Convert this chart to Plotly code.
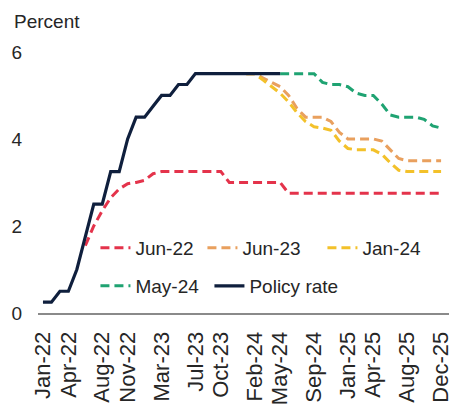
import plotly.graph_objects as go

# ---- data ----
month_names = ["Jan", "Feb", "Mar", "Apr", "May", "Jun", "Jul", "Aug", "Sep", "Oct", "Nov", "Dec"]
years = ["22", "23", "24", "25"]
months = [f"{m}-{y}" for y in years for m in month_names]  # Jan-22 .. Dec-25

tick_labels = ["Jan-22", "Apr-22", "Aug-22", "Nov-22", "Mar-23", "Jul-23", "Oct-23",
               "Feb-24", "May-24", "Sep-24", "Jan-25", "Apr-25", "Aug-25", "Dec-25"]

# Policy rate: Jan-22 .. May-24
policy_rate = [0.25, 0.25, 0.5, 0.5, 1.0, 1.75, 2.5, 2.5, 3.25, 3.25, 4.0, 4.5,
               4.5, 4.75, 5.0, 5.0, 5.25, 5.25, 5.5, 5.5, 5.5, 5.5, 5.5, 5.5,
               5.5, 5.5, 5.5, 5.5, 5.5]

# Jun-22 expectations: Jun-22 .. Dec-25
jun22 = [1.55, 2.0, 2.35, 2.65, 2.85, 2.97, 3.0,
         3.05, 3.2, 3.25, 3.25, 3.25, 3.25, 3.25, 3.25, 3.25, 3.25, 3.0, 3.0,
         3.0, 3.0, 3.0, 3.0, 3.0, 2.75, 2.75, 2.75, 2.75, 2.75, 2.75, 2.75,
         2.75, 2.75, 2.75, 2.75, 2.75, 2.75, 2.75, 2.75, 2.75, 2.75, 2.75, 2.75]

# Jun-23 expectations: Jan-24 .. Dec-25
jun23 = [5.5, 5.5, 5.4, 5.3, 5.2, 5.0, 4.7, 4.5, 4.5, 4.5, 4.4, 4.15,
         4.0, 4.0, 4.0, 4.0, 3.95, 3.75, 3.55, 3.5, 3.5, 3.5, 3.5, 3.5]

# Jan-24 expectations: Jan-24 .. Dec-25
jan24 = [5.5, 5.5, 5.35, 5.2, 5.05, 4.85, 4.6, 4.4, 4.28, 4.25, 4.2, 3.95,
         3.78, 3.75, 3.75, 3.75, 3.65, 3.45, 3.28, 3.25, 3.25, 3.25, 3.25, 3.25]

# May-24 expectations: May-24 .. Dec-25
may24 = [5.5, 5.5, 5.5, 5.5, 5.5, 5.3, 5.25, 5.25,
         5.2, 5.05, 5.0, 5.0, 4.8, 4.55, 4.5, 4.5, 4.5, 4.45, 4.3, 4.25]

x_policy = months[:len(policy_rate)]
x_jun22 = months[months.index("Jun-22"):]
x_jun23 = months[months.index("Jan-24"):]
x_jan24 = months[months.index("Jan-24"):]
x_may24 = months[months.index("May-24"):]

# ---- style ----
FONT = "Liberation Sans, Arial, sans-serif"
TXT = "#262626"
RED = "#E4334B"
ORANGE = "#E9A05E"
YELLOW = "#F3C12A"
GREEN = "#1FA372"
NAVY = "#0F1F3D"
DASH = "9px,5px"

fig = go.Figure()
fig.add_trace(go.Scatter(x=x_jun22, y=jun22, mode="lines", name="Jun-22",
                         line=dict(color=RED, width=3, dash=DASH),
                         legend="legend", legendwidth=62))
fig.add_trace(go.Scatter(x=x_jun23, y=jun23, mode="lines", name="Jun-23",
                         line=dict(color=ORANGE, width=3, dash=DASH),
                         legend="legend", legendwidth=75))
fig.add_trace(go.Scatter(x=x_jan24, y=jan24, mode="lines", name="Jan-24",
                         line=dict(color=YELLOW, width=3, dash=DASH),
                         legend="legend"))
fig.add_trace(go.Scatter(x=x_may24, y=may24, mode="lines", name="May-24",
                         line=dict(color=GREEN, width=3, dash=DASH),
                         legend="legend2", legendwidth=69))
fig.add_trace(go.Scatter(x=x_policy, y=policy_rate, mode="lines", name="Policy rate",
                         line=dict(color=NAVY, width=3.2),
                         legend="legend2"))

L, R, T, B = 38, 0, 41, 95
W, H = 453, 408
plot_w = W - L - R
plot_h = H - T - B

leg_common = dict(orientation="h", xanchor="left", yanchor="middle",
                  x=(96 - L) / plot_w, font=dict(family=FONT, size=19, color=TXT),
                  bgcolor="rgba(0,0,0,0)", borderwidth=0, traceorder="normal",
                  itemclick=False)

fig.update_layout(
    width=W, height=H,
    margin=dict(l=L, r=R, t=T, b=B, pad=0),
    paper_bgcolor="white", plot_bgcolor="white",
    font=dict(family=FONT, size=19, color=TXT),
    showlegend=True,
    legend=dict(**leg_common, y=(313 - 248) / plot_h),
    legend2=dict(**leg_common, y=(313 - 286) / plot_h),
    xaxis=dict(
        type="category", categoryorder="array", categoryarray=months,
        range=[-0.585, 47.935],
        tickmode="array", tickvals=tick_labels, ticktext=tick_labels,
        tickangle=-90, tickfont=dict(family=FONT, size=22, color=TXT),
        showgrid=False, zeroline=False,
        showline=True, linecolor="#8a8a8a", linewidth=2,
        ticks="", ticklabelstandoff=8,
    ),
    yaxis=dict(
        range=[0, 6.25], tickmode="array", tickvals=[0, 2, 4, 6],
        tickfont=dict(family=FONT, size=19, color=TXT),
        showgrid=False, zeroline=False, showline=False,
        ticks="", ticklabelstandoff=15,
    ),
    annotations=[dict(
        text="Percent", xref="paper", yref="paper", x=0, y=1,
        xanchor="left", yanchor="middle", xshift=12 - L, yshift=20,
        showarrow=False, font=dict(family=FONT, size=19, color=TXT),
    )],
)

fig.write_html("out.html",
               config={"displayModeBar": False},
               post_script="document.body.style.margin='0';document.body.style.overflow='hidden';")
